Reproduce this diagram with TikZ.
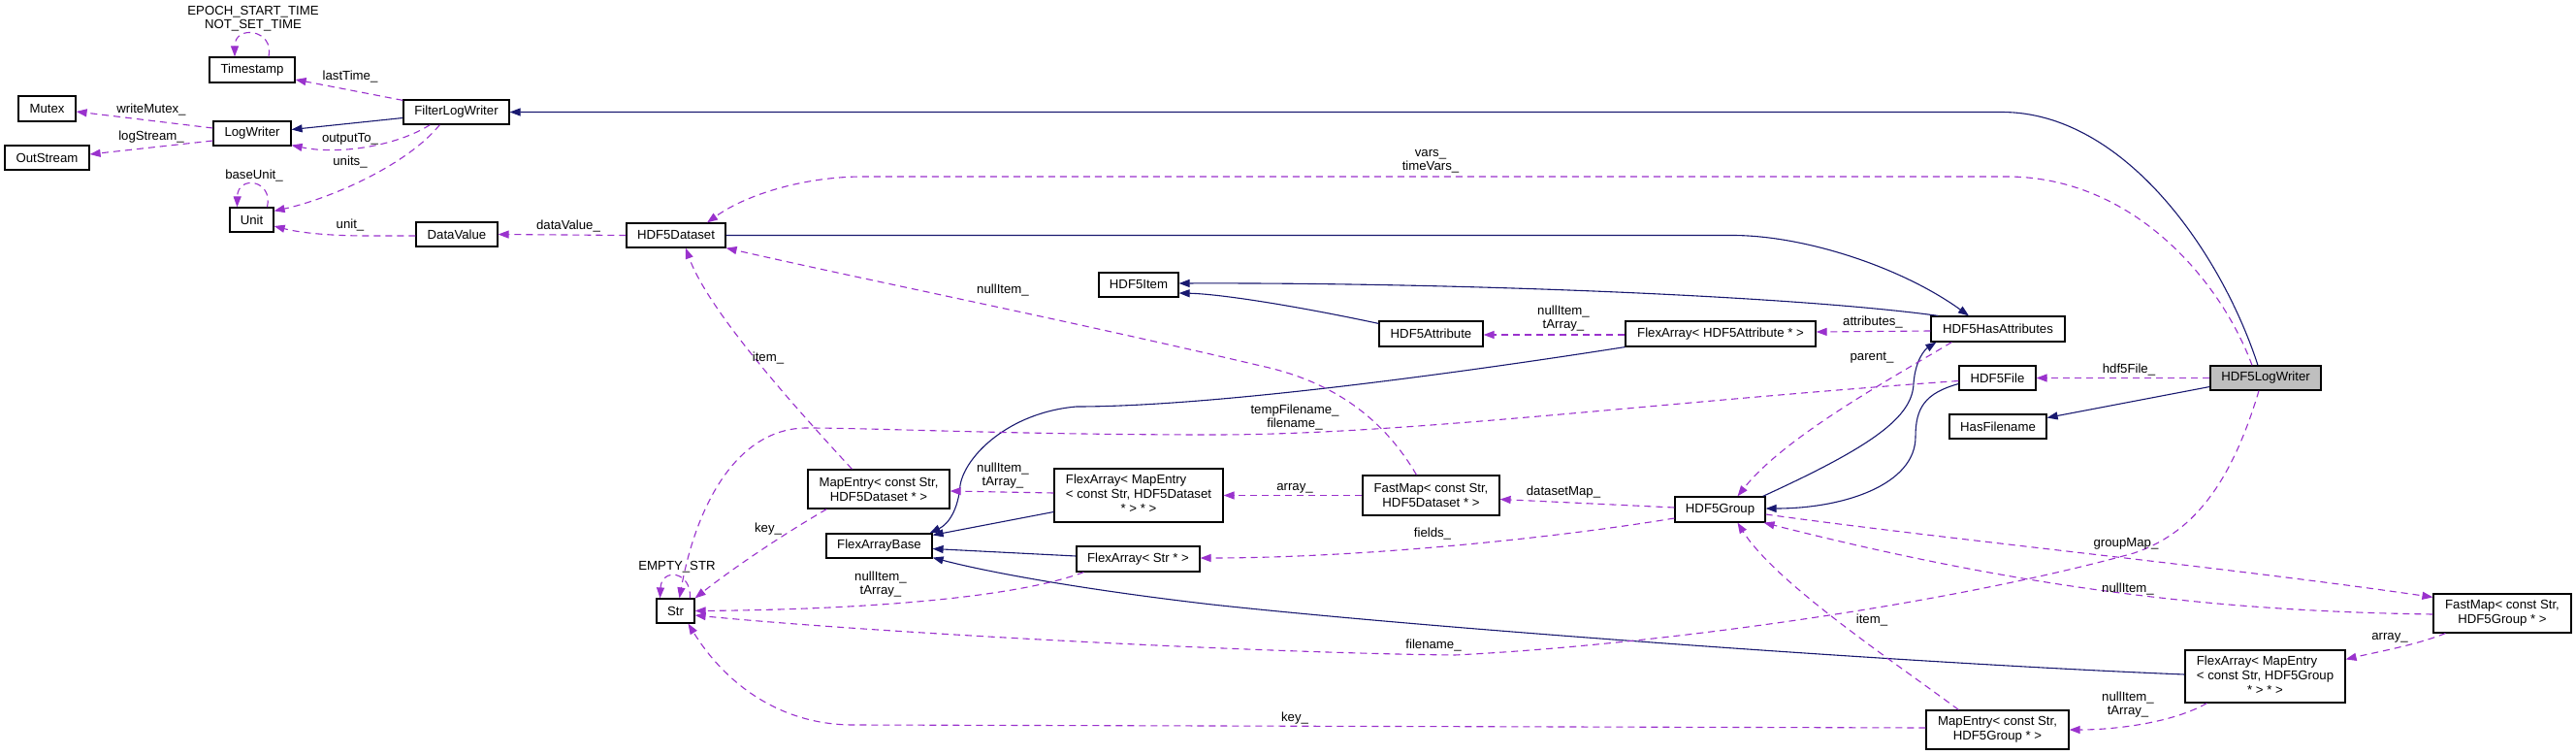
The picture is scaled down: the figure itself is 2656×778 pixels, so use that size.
\documentclass[tikz,border=0pt]{standalone}
\usepackage{fontspec}
\setmainfont{Liberation Sans}
\usetikzlibrary{arrows.meta,calc}
\definecolor{myblue}{HTML}{191970}
\definecolor{mypurple}{HTML}{9A32CD}
\definecolor{mygray}{HTML}{BFBFBF}
\newcommand\nfont{\fontsize{13.2}{15}\selectfont}
\newcommand\lfont{\fontsize{13.2}{14}\selectfont}
\begin{document}
\begin{tikzpicture}[x=1pt,y=-1pt,
  cls/.style={draw=black, line width=1.2pt, fill=white, inner sep=0pt, align=center, font=\nfont},
  inh/.style={draw=myblue, line width=1.1pt, -{Triangle[length=11pt,width=8pt]}, fill=none},
  use/.style={draw=mypurple, line width=1.1pt, dash pattern=on 7pt off 5pt, -{Triangle[length=11pt,width=8pt,fill=mypurple]}},
  lbl/.style={font=\lfont, align=center, inner sep=0pt}]
\useasboundingbox (0,0) rectangle (2656,778);
\fill[white] (0,0) rectangle (2656,778);

% ---------- classes ----------
\node[cls, minimum width=88pt, minimum height=26pt] (ts) at (260,72) {Timestamp};
\node[cls, minimum width=109pt, minimum height=25pt] (flw) at (470.5,115.5) {FilterLogWriter};
\node[cls, minimum width=59pt, minimum height=26pt] (mutex) at (48.5,112) {Mutex};
\node[cls, minimum width=80pt, minimum height=25pt] (lw) at (260,137.5) {LogWriter};
\node[cls, minimum width=87pt, minimum height=25pt] (os) at (48.5,162.5) {OutStream};
\node[cls, minimum width=45pt, minimum height=25pt] (unit) at (259.5,226.5) {Unit};
\node[cls, minimum width=84pt, minimum height=25pt] (dv) at (471,241.5) {DataValue};
\node[cls, minimum width=102pt, minimum height=25pt] (ds) at (697,242.5) {HDF5Dataset};
\node[cls, minimum width=82pt, minimum height=25pt] (item) at (1174,293.5) {HDF5Item};
\node[cls, minimum width=107pt, minimum height=26pt] (attr) at (1475.5,344) {HDF5Attribute};
\node[cls, minimum width=196pt, minimum height=26pt] (faattr) at (1774,344) {FlexArray< HDF5Attribute * >};
\node[cls, minimum width=138pt, minimum height=26pt] (hasattr) at (2060,339) {HDF5HasAttributes};
\node[cls, minimum width=79pt, minimum height=25pt] (file) at (2059.5,389.5) {HDF5File};
\node[cls, minimum width=114pt, minimum height=25pt, fill=mygray] (hlw) at (2336,389.5) {HDF5LogWriter};
\node[cls, minimum width=100pt, minimum height=25pt] (hasfn) at (2060,439.5) {HasFilename};
\node[cls, minimum width=142pt, minimum height=40pt] (fmg) at (2580,632) {FastMap< const Str,\\HDF5Group * >};
\node[cls, minimum width=165pt, minimum height=54pt] (famg) at (2335.5,697)
  {\begin{tabular}{@{}l@{}}FlexArray< MapEntry\\< const Str, HDF5Group\\\multicolumn{1}{@{}c@{}}{* > * >}\end{tabular}};
\node[cls, minimum width=147pt, minimum height=40pt] (meg) at (2059.5,752) {MapEntry< const Str,\\HDF5Group * >};
\node[cls, minimum width=93pt, minimum height=26pt] (group) at (1773.5,525) {HDF5Group};
\node[cls, minimum width=141pt, minimum height=41pt] (fmd) at (1475.5,510.5) {FastMap< const Str,\\HDF5Dataset * >};
\node[cls, minimum width=174pt, minimum height=55pt] (famd) at (1174,510.5)
  {\begin{tabular}{@{}l@{}}FlexArray< MapEntry\\< const Str, HDF5Dataset\\\multicolumn{1}{@{}c@{}}{* > * >}\end{tabular}};
\node[cls, minimum width=127pt, minimum height=26pt] (fastr) at (1173.5,576) {FlexArray< Str * >};
\node[cls, minimum width=146pt, minimum height=40pt] (med) at (906,504) {MapEntry< const Str,\\HDF5Dataset * >};
\node[cls, minimum width=109pt, minimum height=25pt] (fab) at (906.5,562.5) {FlexArrayBase};
\node[cls, minimum width=39pt, minimum height=25pt] (str) at (696.5,629.5) {Str};

% ---------- inheritance ----------
\draw[inh] ($(hlw.north)+(-8,0)$) .. controls (2290,260) and (2190,115.5) .. (2064,115.5) -- (flw.east);
\draw[inh] (ds.east) -- (1786,242.5) .. controls (1860,242.5) and (1960,275) .. ($(hasattr.north)+(-30,0)$);
\draw[inh] ($(hasattr.north west)+(8,0)$) .. controls (1850,305) and (1500,291) .. ($(item.east)+(0,-1.5)$);
\draw[inh] ($(attr.north west)+(0,3)$) .. controls (1340,316) and (1260,303) .. ($(item.east)+(0,8.5)$);
\draw[inh] ($(group.north east)+(-3,0)$) .. controls (1930,460) and (1972,430) .. (1973,395) .. controls (1975,370) and (1985,360) .. ($(hasattr.south west)+(6,0)$);
\draw[inh] ($(file.west)+(0,6)$) .. controls (1985,405) and (1975,420) .. (1975,450) .. controls (1975,500) and (1900,524) .. ($(group.east)+(0,-1)$);
\draw[inh] ($(hlw.west)+(0,9)$) -- ($(hasfn.east)+(0,-9)$);
\draw[inh] ($(flw.west)+(0,6)$) -- ($(lw.east)+(0,-4)$);
\draw[inh] ($(famd.west)+(0,17)$) -- ($(fab.north east)+(0,2)$);
\draw[inh] ($(fastr.west)+(0,-3)$) -- ($(fab.east)+(0,3)$);
\draw[inh] (faattr.south west) .. controls (1500,385) and (1250,419) .. (1110,419) .. controls (1040,425) and (995,470) .. (990,500) .. controls (988,525) and (978,540) .. ($(fab.north east)+(-3,0)$);
\draw[inh] ($(famg.west)+(0,-2)$) .. controls (2000,685) and (1500,650) .. (1250,623) .. controls (1120,608) and (1020,590) .. ($(fab.south east)+(0,-1)$);

% ---------- usage ----------
\draw[use] ($(flw.north west)+(0,1)$) -- ($(ts.east)+(0,10)$);
\draw[use] ($(ts.north)+(17,0)$) .. controls (283,30) and (242,25) .. ($(ts.north)+(-18,0)$);
\draw[use] ($(flw.south west)+(28,0)$) .. controls (410,150) and (350,160) .. ($(lw.south east)+(0,-1)$);
\draw[use] ($(flw.south west)+(38,0)$) .. controls (420,170) and (340,205) .. ($(unit.north east)+(0,4)$);
\draw[use] ($(lw.west)+(0,-5.5)$) -- ($(mutex.east)+(0,3)$);
\draw[use] ($(lw.west)+(0,7.5)$) -- ($(os.east)+(0,-3.5)$);
\draw[use] ($(unit.north)+(16,0)$) .. controls (282,185) and (245,180) .. ($(unit.north)+(-15,0)$);
\draw[use] ($(dv.west)+(0,1.5)$) -- (380,243) .. controls (340,243) and (310,240) .. ($(unit.east)+(0,6.5)$);
\draw[use] (ds.west) -- (dv.east);
\draw[use] ($(hlw.north)+(-14,0)$) .. controls (2290,290) and (2200,182) .. (2069,182) -- (890,182) .. controls (830,182) and (770,200) .. ($(ds.north)+(32,0)$);
\draw[use] (hlw.west) -- (file.east);
\draw[use] ($(hasattr.west)+(0,2)$) -- ($(faattr.east)+(0,-2)$);
\draw[use] ($(faattr.west)+(0,1)$) -- ($(attr.east)+(0,1)$);
\draw[use] ($(hasattr.south west)+(22,0)$) .. controls (1950,390) and (1840,450) .. ($(group.north)+(18,0)$);
\draw[use] ($(file.west)+(0,3)$) .. controls (1700,415) and (1450,448) .. (1250,448) .. controls (1050,448) and (900,441) .. (832,441) .. controls (760,441) and (718,520) .. ($(str.north)+(4,0)$);
\draw[use] ($(hlw.south)+(-7,0)$) .. controls (2300,500) and (2260,550) .. (2200,570) .. controls (2000,625) and (1700,665) .. (1500,675) .. controls (1300,673) and (900,652) .. ($(str.east)+(0,4.5)$);
\draw[use] ($(group.east)+(0,5)$) .. controls (2000,555) and (2300,585) .. ($(fmg.north west)+(0,4)$);
\draw[use] ($(fmg.west)+(0,1)$) .. controls (2300,630) and (2100,610) .. ($(group.south east)+(-2,0)$);
\draw[use] ($(meg.north west)+(34,0)$) .. controls (1950,680) and (1830,600) .. ($(group.south)+(18,0)$);
\draw[use] ($(fmg.south west)+(13,0)$) .. controls (2490,665) and (2450,672) .. ($(famg.north east)+(0,10)$);
\draw[use] ($(famg.south west)+(23,0)$) .. controls (2240,745) and (2180,752) .. (meg.east);
\draw[use] ($(meg.west)+(0,-2)$) -- (880,747) .. controls (800,747) and (745,700) .. ($(str.south)+(13,0)$);
\draw[use] (fmd.west) -- (famd.east);
\draw[use] ($(group.west)+(0,-2)$) -- ($(fmd.east)+(0,4)$);
\draw[use] ($(group.west)+(0,9)$) .. controls (1600,555) and (1400,575) .. ($(fastr.east)+(0,-1)$);
\draw[use] ($(fmd.north)+(-15,0)$) .. controls (1420,420) and (1360,390) .. (1300,377) .. controls (1100,330) and (900,290) .. (ds.south east);
\draw[use] ($(med.north west)+(46,0)$) .. controls (820,420) and (730,320) .. ($(ds.south)+(10,0)$);
\draw[use] ($(famd.west)+(0,-2.5)$) -- ($(med.east)+(0,2)$);
\draw[use] ($(med.south west)+(20,0)$) .. controls (800,555) and (750,590) .. (str.north east);
\draw[use] ($(fastr.south west)+(8,0)$) .. controls (1050,615) and (900,628) .. (str.east);
\draw[use] ($(str.north)+(15,0)$) .. controls (713,588) and (682,585) .. ($(str.north)+(-16,0)$);

% ---------- labels ----------
\node[lbl] (l01) at (261,19) {EPOCH\_START\_TIME\\NOT\_SET\_TIME};
\node[lbl] (l02) at (361,79) {lastTime\_};
\node[lbl] (l03) at (156,113) {writeMutex\_};
\node[lbl] (l04) at (156,141) {logStream\_};
\node[lbl] (l05) at (361,143) {outputTo\_};
\node[lbl] (l06) at (361,167) {units\_};
\node[lbl] (l07) at (262,181) {baseUnit\_};
\node[lbl] (l08) at (361,232) {unit\_};
\node[lbl] (l09) at (586,233) {dataValue\_};
\node[lbl] (l10) at (1475,166) {vars\_\\timeVars\_};
\node[lbl] (l11) at (1034,299) {nullItem\_};
\node[lbl] (l12) at (792,369) {item\_};
\node[lbl] (l13) at (1612,328) {nullItem\_\\tArray\_};
\node[lbl] (l14) at (1931,332) {attributes\_};
\node[lbl] (l15) at (1930,369) {parent\_};
\node[lbl] (l16) at (2195,381) {hdf5File\_};
\node[lbl] (l17) at (1335,430) {tempFilename\_\\filename\_};
\node[lbl] (l18) at (1034,490) {nullItem\_\\tArray\_};
\node[lbl] (l19) at (1335,503) {array\_};
\node[lbl] (l20) at (1612,507) {datasetMap\_};
\node[lbl] (l21) at (1477,550) {fields\_};
\node[lbl] (l22) at (792,545) {key\_};
\node[lbl] (l23) at (698,584) {EMPTY\_STR};
\node[lbl] (l24) at (908,602) {nullItem\_\\tArray\_};
\node[lbl] (l25) at (2192,560) {groupMap\_};
\node[lbl] (l26) at (2194,607) {nullItem\_};
\node[lbl] (l27) at (1930,639) {item\_};
\node[lbl] (l28) at (1478,665) {filename\_};
\node[lbl] (l29) at (2464,657) {array\_};
\node[lbl] (l30) at (2194,726) {nullItem\_\\tArray\_};
\node[lbl] (l31) at (1335,740) {key\_};
\end{tikzpicture}
\end{document}
